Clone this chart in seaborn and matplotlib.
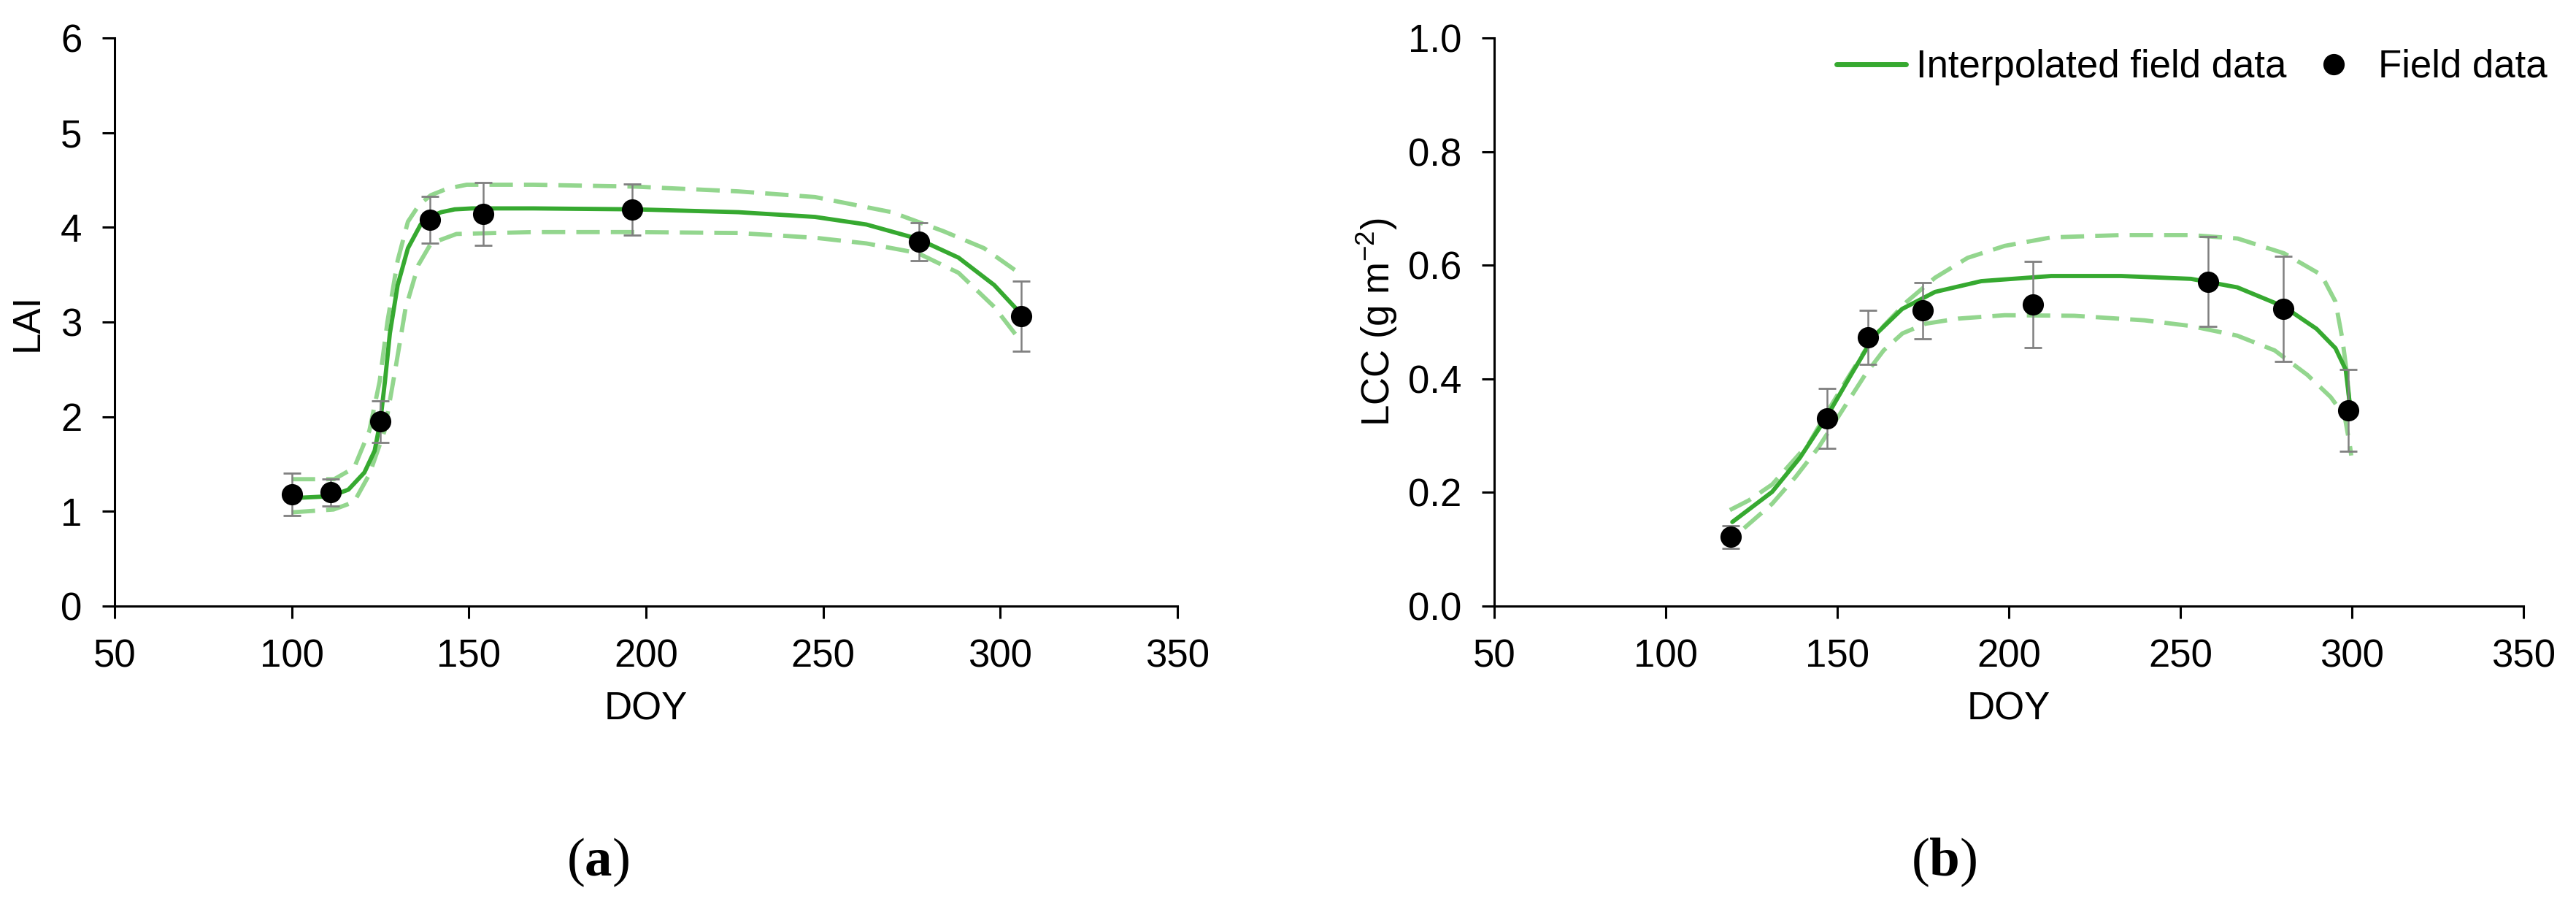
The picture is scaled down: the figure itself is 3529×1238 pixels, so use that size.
import pandas as pd
import matplotlib.pyplot as plt
from matplotlib.lines import Line2D
from matplotlib.ticker import FormatStrFormatter
import seaborn as sns

# (a) LAI field data
lai_doy = [100, 111, 125, 139, 154, 196, 277, 306]
lai_obs = [1.18, 1.20, 1.95, 4.08, 4.14, 4.19, 3.85, 3.06]
lai_err = [0.22, 0.14, 0.22, 0.25, 0.33, 0.27, 0.20, 0.37]

# (a) interpolated curve and its bounds
lai_fit_doy = [100, 111, 116, 120.5, 123.4, 125, 126.3, 127.7, 129.9, 132.8, 136.4, 139.5,
               142.2, 146, 150.9, 168.2, 197.1, 226.1, 247.7, 262.2, 276.6, 288.2, 298.3, 306]
lai_fit = [1.14, 1.16, 1.23, 1.41, 1.64, 1.95, 2.37, 2.88, 3.39, 3.78, 4.03, 4.12,
           4.16, 4.19, 4.20, 4.20, 4.19, 4.16, 4.11, 4.03, 3.88, 3.68, 3.39, 3.08]
lai_up_doy = [100, 112, 117.6, 121.9, 124.8, 127, 129.9, 132.8, 136, 139.3, 144, 149.4, 168.2,
              197, 226, 247.7, 269.4, 283.9, 295.4, 304.1]
lai_up = [1.34, 1.34, 1.46, 1.85, 2.37, 3.0, 3.65, 4.06, 4.24, 4.34, 4.41, 4.45, 4.45,
          4.43, 4.38, 4.32, 4.16, 3.96, 3.78, 3.55]
lai_lo_doy = [100, 111.8, 117.6, 121.9, 126.2, 129.2, 132.1, 135.7, 139.3, 146.5, 168.2, 197,
              226, 247.7, 262.2, 276.6, 288.2, 298.3, 304.9]
lai_lo = [0.99, 1.02, 1.10, 1.39, 1.85, 2.49, 3.14, 3.60, 3.83, 3.93, 3.95, 3.95,
          3.94, 3.89, 3.83, 3.73, 3.52, 3.16, 2.84]

# (b) LCC field data
lcc_doy = [119, 147, 159, 175, 207, 258, 280, 299]
lcc_obs = [0.122, 0.330, 0.473, 0.520, 0.531, 0.571, 0.523, 0.345]
lcc_err = [0.020, 0.053, 0.048, 0.049, 0.076, 0.079, 0.093, 0.072]

lcc_fit_doy = [119.4, 131, 139.1, 146.6, 154, 160.8, 168.9, 178.5, 192, 212.4, 232.7, 253.1,
               266.6, 280.2, 289.7, 295.2, 298.2, 299.5]
lcc_fit = [0.148, 0.201, 0.261, 0.330, 0.407, 0.476, 0.523, 0.553, 0.572, 0.581, 0.581, 0.576,
           0.561, 0.527, 0.488, 0.454, 0.416, 0.350]
lcc_up_doy = [118.7, 124.2, 131, 141.8, 147.2, 152.7, 158.1, 163.5, 170.3, 178.5, 188, 198.8,
              212.4, 232.7, 253.1, 266.7, 280.2, 291.1, 295.2, 297.2, 298.6, 299.2, 299.5]
lcc_up = [0.169, 0.186, 0.214, 0.287, 0.343, 0.398, 0.450, 0.493, 0.536, 0.578, 0.613, 0.634,
          0.649, 0.653, 0.653, 0.647, 0.621, 0.583, 0.536, 0.471, 0.407, 0.364, 0.330]
lcc_lo_doy = [122.8, 131, 137.8, 144.5, 151.3, 158.1, 163.5, 169, 175.7, 185.2, 198.8, 219.1,
              239.5, 253.1, 266.6, 277.5, 287, 293.8, 297.9, 299.5, 299.8]
lcc_lo = [0.137, 0.180, 0.227, 0.279, 0.343, 0.407, 0.450, 0.480, 0.497, 0.506, 0.512, 0.511,
          0.503, 0.493, 0.476, 0.450, 0.407, 0.368, 0.334, 0.279, 0.265]

GREEN = '#36a930'
LIGHT = '#93d68e'
FS = 38

sns.set_theme(style='ticks')
plt.rcParams['font.family'] = ['Liberation Sans', 'DejaVu Sans']
plt.rcParams['text.color'] = 'black'
plt.rcParams['axes.labelcolor'] = 'black'
plt.rcParams['mathtext.fontset'] = 'custom'
plt.rcParams['mathtext.rm'] = 'Liberation Sans'
plt.rcParams['mathtext.bf'] = 'Liberation Serif:bold'

W, H = 3530, 1238
fig = plt.figure(figsize=(W / 100, H / 100), dpi=100)
ax1 = fig.add_axes([157 / W, 1 - 830 / H, 1456 / W, 778 / H])
ax2 = fig.add_axes([2047 / W, 1 - 830 / H, 1410 / W, 778 / H])


def draw_panel(ax, doy, obs, err, fit_doy, fit, up_doy, up, lo_doy, lo):
    for xs, ys in [(up_doy, up), (lo_doy, lo)]:
        sns.lineplot(x=xs, y=ys, ax=ax, color=LIGHT, lw=4.2, linestyle=(0, (5.5, 2.6)),
                     sort=False, estimator=None, zorder=2)
    sns.lineplot(x=fit_doy, y=fit, ax=ax, color=GREEN, lw=4.2, sort=False,
                 estimator=None, zorder=3, solid_joinstyle='round')
    ax.errorbar(doy, obs, yerr=err, fmt='none', ecolor='#808080', elinewidth=1.8,
                capsize=8.5, capthick=2, zorder=4)
    sns.scatterplot(x=doy, y=obs, ax=ax, color='black', s=440, linewidth=0, zorder=5)

    ax.set_xlim(50, 350)
    ax.set_xticks(range(50, 351, 50))
    sns.despine(ax=ax)
    for s in ['left', 'bottom']:
        ax.spines[s].set_linewidth(2.2)
        ax.spines[s].set_color('black')
    ax.tick_params(direction='out', length=12, width=2.2, labelsize=FS, pad=20,
                   colors='black')
    ax.set_xlabel('DOY', fontsize=FS, va='center')
    ax.xaxis.set_label_coords(0.5, (830 - 972) / 778)


draw_panel(ax1, lai_doy, lai_obs, lai_err, lai_fit_doy, lai_fit,
           lai_up_doy, lai_up, lai_lo_doy, lai_lo)
ax1.set_ylim(0, 6)
ax1.set_yticks(range(0, 7))
ax1.set_ylabel('LAI', fontsize=FS, va='center')
ax1.yaxis.set_label_coords((38 - 157) / 1456, 0.5)

draw_panel(ax2, lcc_doy, lcc_obs, lcc_err, lcc_fit_doy, lcc_fit,
           lcc_up_doy, lcc_up, lcc_lo_doy, lcc_lo)
ax2.set_ylim(0, 1)
ax2.set_yticks([0, 0.2, 0.4, 0.6, 0.8, 1.0])
ax2.yaxis.set_major_formatter(FormatStrFormatter('%.1f'))
ax2.set_ylabel(r'LCC (g m$^{-2}$)', fontsize=FS, va='center')
ax2.yaxis.set_label_coords((1886 - 2047) / 1410, 0.5)

handles = [Line2D([], [], color=GREEN, lw=5),
           Line2D([], [], color='black', marker='o', ls='none', markersize=20)]
ax2.legend(handles, ['Interpolated field data', 'Field data'], ncol=2, frameon=False,
           fontsize=FS, loc='center right', bbox_to_anchor=(3490 / W, 1 - 92 / H),
           bbox_transform=fig.transFigure, handlelength=1.8, handletextpad=0.27,
           columnspacing=0.32, borderpad=0, borderaxespad=0)

fig.text(819 / W, 1 - 1181 / H, r'($\mathbf{a}$)', family='Liberation Serif',
         fontsize=54, ha='center', va='center')
fig.text(2663 / W, 1 - 1181 / H, r'($\mathbf{b}$)', family='Liberation Serif',
         fontsize=54, ha='center', va='center')

fig.savefig('out.png', dpi=100, facecolor='white')
